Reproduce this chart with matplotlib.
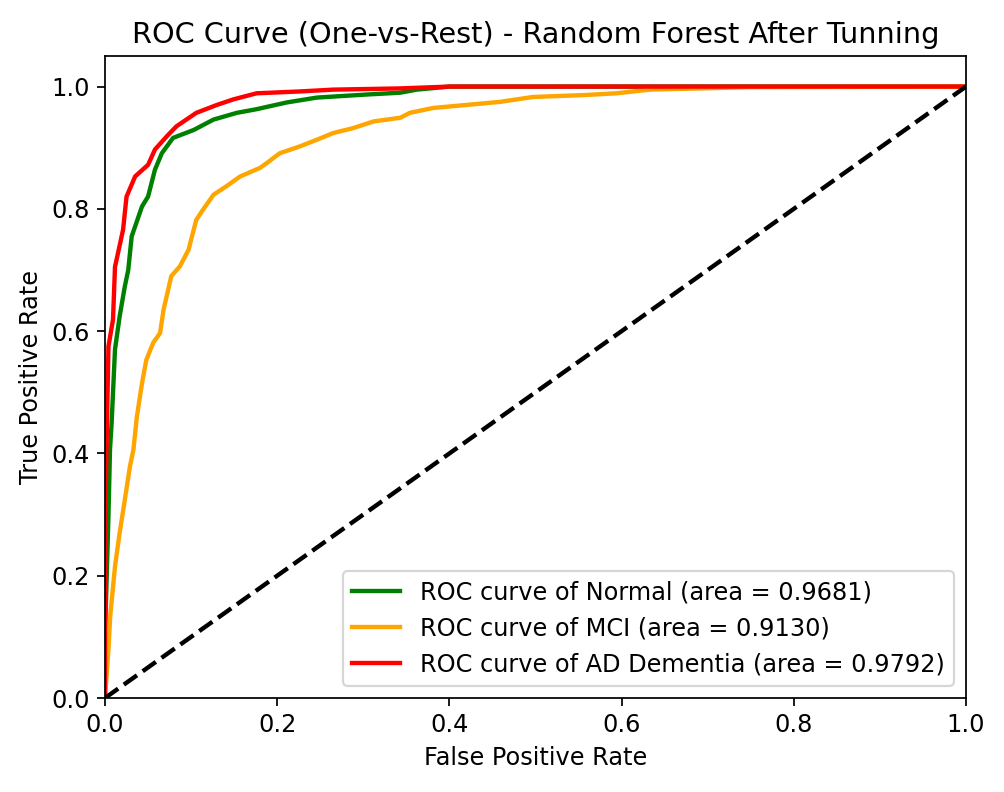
import numpy as np
import matplotlib.pyplot as plt

# ROC points
fpr_normal = [0.0, 0.0, 0.002, 0.004, 0.0058, 0.0077, 0.0116, 0.017, 0.023, 0.027, 0.031,
              0.043, 0.050, 0.058, 0.066, 0.079, 0.090, 0.103, 0.126, 0.153, 0.176, 0.211,
              0.246, 0.304, 0.343, 0.362, 0.40, 0.6, 1.0]
tpr_normal = [0.0, 0.10, 0.20, 0.297, 0.406, 0.450, 0.570, 0.624, 0.673, 0.700, 0.755,
              0.804, 0.820, 0.864, 0.891, 0.916, 0.922, 0.929, 0.946, 0.957, 0.963, 0.974,
              0.982, 0.987, 0.990, 0.995, 1.0, 1.0, 1.0]

fpr_mci = [0.0, 0.002, 0.004, 0.006, 0.0116, 0.017, 0.023, 0.029, 0.033, 0.037, 0.043,
           0.048, 0.056, 0.064, 0.068, 0.077, 0.087, 0.097, 0.106, 0.114, 0.126, 0.141,
           0.157, 0.180, 0.188, 0.203, 0.226, 0.246, 0.265, 0.288, 0.312, 0.343, 0.354,
           0.381, 0.420, 0.459, 0.497, 0.555, 0.594, 0.633, 0.691, 0.749, 1.0]
tpr_mci = [0.0, 0.04, 0.079, 0.133, 0.215, 0.27, 0.324, 0.379, 0.406, 0.46, 0.515,
           0.553, 0.581, 0.597, 0.635, 0.69, 0.706, 0.733, 0.782, 0.799, 0.823, 0.837,
           0.853, 0.867, 0.875, 0.891, 0.902, 0.913, 0.924, 0.932, 0.943, 0.949, 0.957,
           0.965, 0.970, 0.975, 0.983, 0.986, 0.989, 0.995, 0.997, 0.999, 1.0]

fpr_ad = [0.0, 0.0, 0.001, 0.003, 0.004, 0.0093, 0.0116, 0.021, 0.025, 0.035, 0.050,
          0.058, 0.072, 0.083, 0.106, 0.130, 0.149, 0.176, 0.226, 0.265, 0.343, 0.40, 1.0]
tpr_ad = [0.0, 0.15, 0.35, 0.50, 0.575, 0.619, 0.705, 0.766, 0.820, 0.853, 0.872,
          0.897, 0.919, 0.935, 0.957, 0.970, 0.979, 0.989, 0.992, 0.995, 0.997, 1.0, 1.0]

labels = ['Normal', 'MCI', 'AD Dementia']
areas = [0.9681, 0.9130, 0.9792]
colors = ['green', 'orange', 'red']
curves = [(fpr_normal, tpr_normal), (fpr_mci, tpr_mci), (fpr_ad, tpr_ad)]

plt.rcParams['font.size'] = 11

fig = plt.figure(figsize=(1004 / 157, 792 / 157), dpi=157)
ax = fig.add_axes([105 / 1004, 94 / 792, 861 / 1004, 642 / 792])

for (fpr, tpr), name, auc, c in zip(curves, labels, areas, colors):
    ax.plot(fpr, tpr, color=c, lw=2, label=f'ROC curve of {name} (area = {auc:.4f})')

ax.plot([0, 1], [0, 1], 'k--', lw=2)
ax.set_xlim([0.0, 1.0])
ax.set_ylim([0.0, 1.05])
ax.set_xlabel('False Positive Rate')
ax.set_ylabel('True Positive Rate')
ax.set_title('ROC Curve (One-vs-Rest) - Random Forest After Tunning')
ax.legend(loc='lower right')

fig.savefig('out.png', dpi=157)
